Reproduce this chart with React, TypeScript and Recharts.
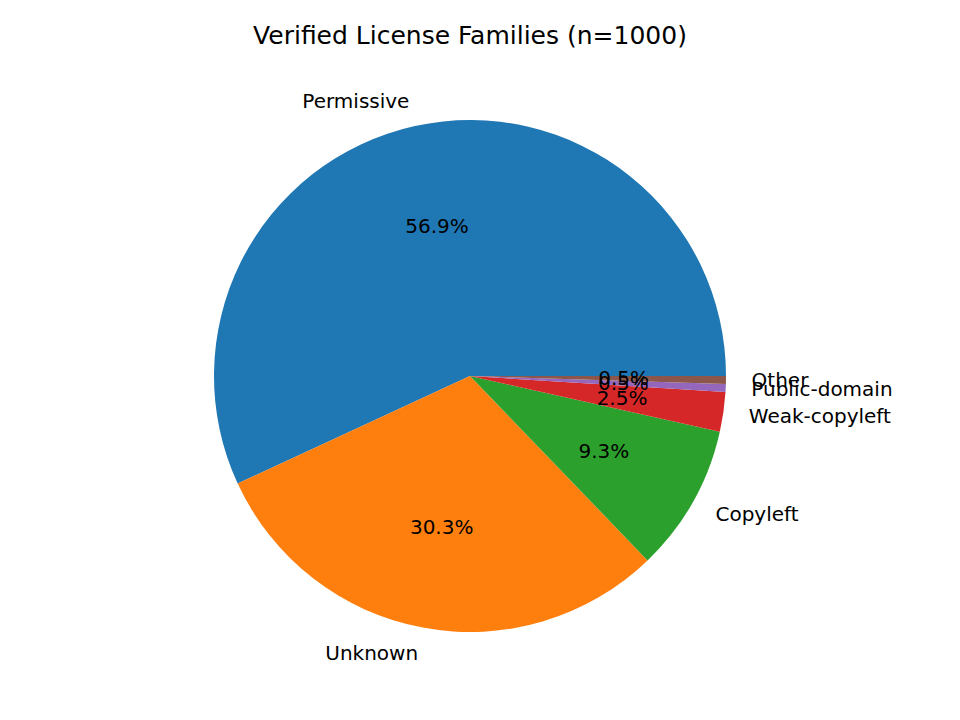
import { PieChart, Pie, Cell } from "recharts";

const names = ["Permissive", "Unknown", "Copyleft", "Weak-copyleft", "Public-domain", "Other"];
const values = [569, 303, 93, 25, 5, 5];
const colors = ["#1f77b4", "#ff7f0e", "#2ca02c", "#d62728", "#9467bd", "#8c564b"];

const data = names.map((name, i) => ({ name, value: values[i] }));
const RAD = Math.PI / 180;

function renderLabel(props: any) {
  const { cx, cy, midAngle, outerRadius, percent, name } = props;
  const cos = Math.cos(midAngle * RAD);
  const sin = Math.sin(midAngle * RAD);
  const lx = cx + outerRadius * 1.1 * cos;
  const ly = cy - outerRadius * 1.1 * sin;
  const px = cx + outerRadius * 0.6 * cos;
  const py = cy - outerRadius * 0.6 * sin;
  return (
    <g>
      <text x={lx} y={ly} textAnchor={cos >= 0 ? "start" : "end"} dominantBaseline="central" fontSize={20} fill="#000">
        {name}
      </text>
      <text x={px} y={py} textAnchor="middle" dominantBaseline="central" fontSize={20} fill="#000">
        {(percent * 100).toFixed(1)}%
      </text>
    </g>
  );
}

export default function App() {
  return (
    <div style={{ position: "absolute", left: 0, top: 0, width: 960, height: 720, background: "#fff", fontFamily: "DejaVu Sans" }}>
      <div style={{ position: "absolute", top: 21, left: 0, width: 940, textAlign: "center", fontSize: 25 }}>
        Verified License Families (n=1000)
      </div>
      <PieChart width={960} height={720} margin={{ top: 0, right: 0, bottom: 0, left: 0 }}>
        <Pie
          data={data}
          dataKey="value"
          nameKey="name"
          cx={470}
          cy={376}
          outerRadius={256}
          startAngle={0}
          endAngle={360}
          stroke="none"
          label={renderLabel}
          labelLine={false}
          isAnimationActive={false}
        >
          {data.map((d, i) => (
            <Cell key={d.name} fill={colors[i]} />
          ))}
        </Pie>
      </PieChart>
    </div>
  );
}
